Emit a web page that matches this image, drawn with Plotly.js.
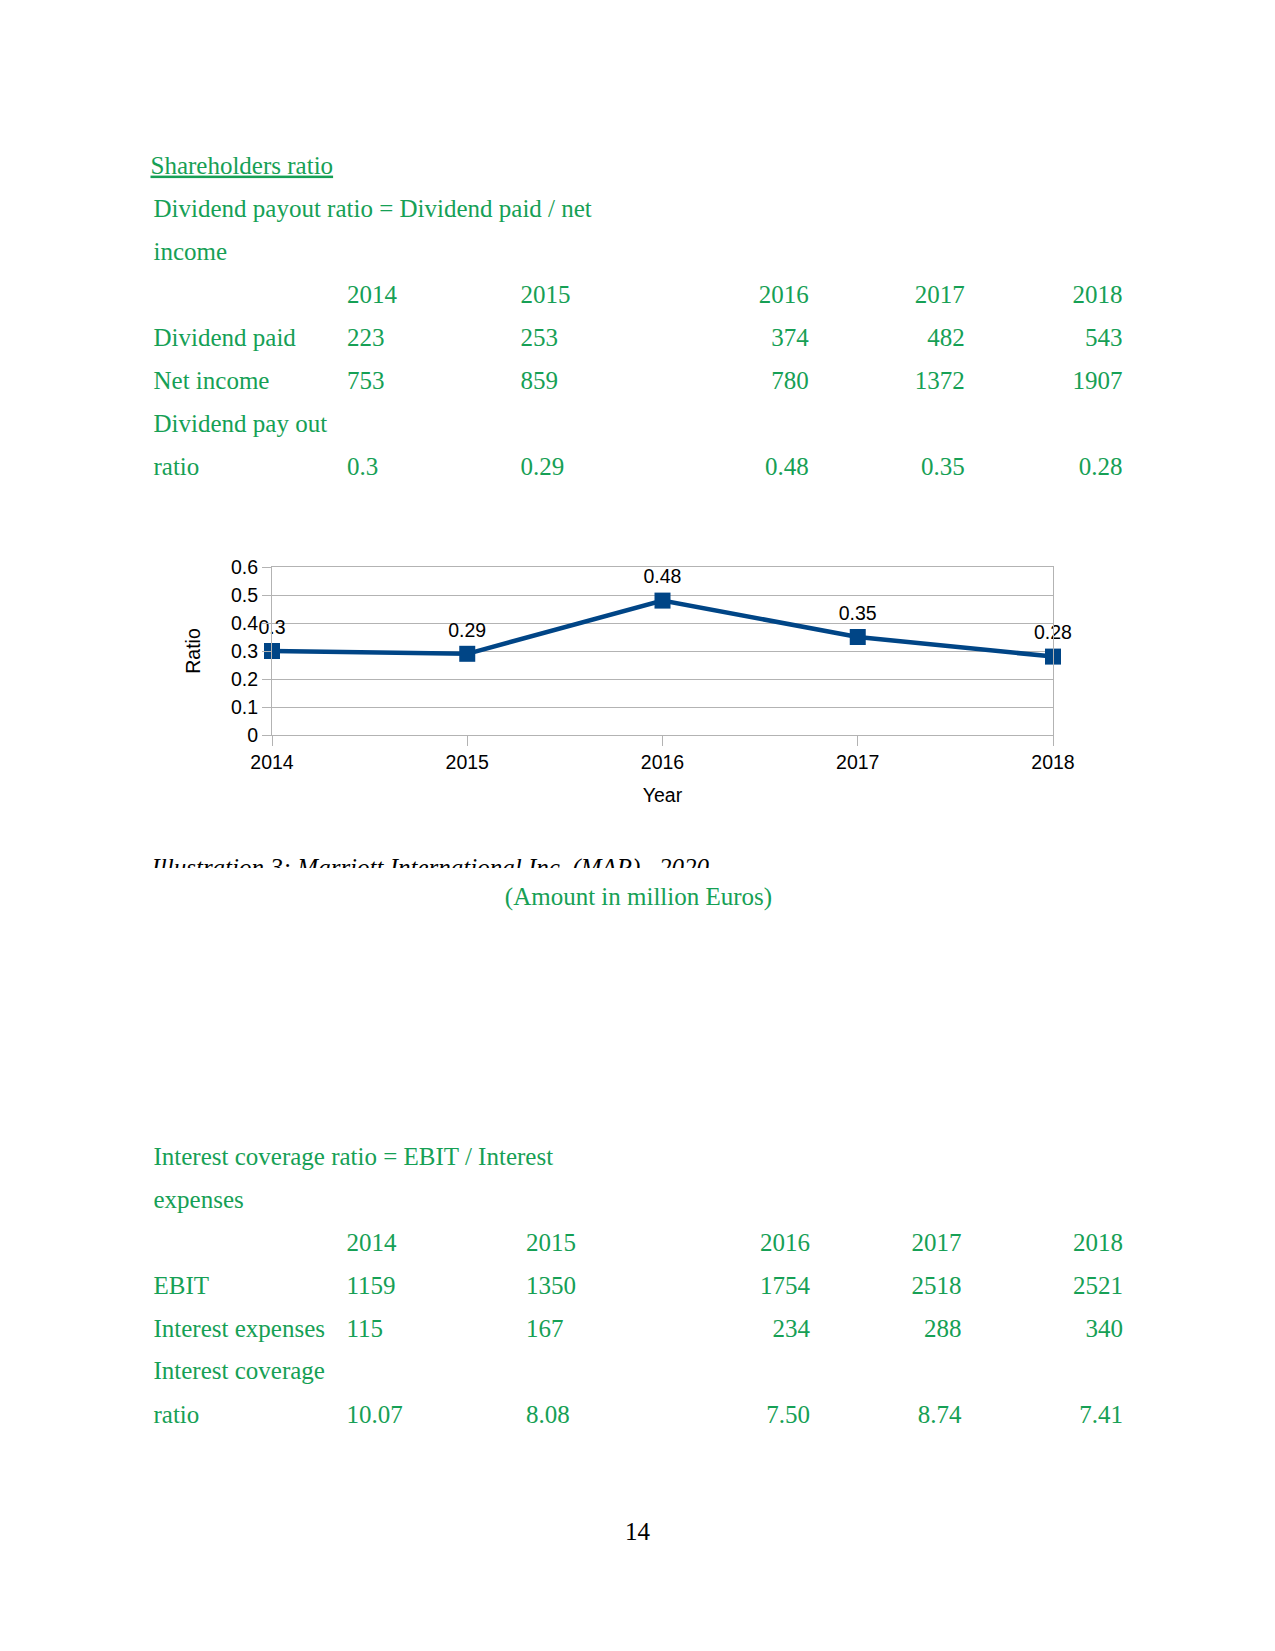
<!DOCTYPE html>
<html>
<head>
<meta charset="utf-8">
<script src="https://cdn.plot.ly/plotly-3.0.1.min.js"></script>
<style>
  html, body { margin: 0; padding: 0; background: #ffffff; }
  #page { position: relative; width: 1275px; height: 1651px; background: #ffffff; overflow: hidden; }
  #chart { position: absolute; left: 0; top: 500px; width: 1275px; height: 340px; }
  #doc { position: absolute; left: 0; top: 0; width: 1275px; height: 1651px; pointer-events: none; }
  #doc text { font-family: "Liberation Serif", "Times New Roman", serif; font-size: 25px; }
  .g { fill: #16a055; }
  .k { fill: #000000; }
</style>
</head>
<body>
<div id="page">
  <div id="chart"></div>
  <svg id="doc" xmlns="http://www.w3.org/2000/svg" width="1275" height="1651"></svg>
</div>
<script>
// ---- data ----
const years = [2014, 2015, 2016, 2017, 2018];
const dividendPaid = [223, 253, 374, 482, 543];
const netIncome = [753, 859, 780, 1372, 1907];
const payoutRatio = [0.3, 0.29, 0.48, 0.35, 0.28];
const ebit = [1159, 1350, 1754, 2518, 2521];
const interestExpenses = [115, 167, 234, 288, 340];
const coverageRatio = [10.07, 8.08, 7.50, 8.74, 7.41];
const yTicks = [0, 0.1, 0.2, 0.3, 0.4, 0.5, 0.6];

// ---- document text ----
const svg = document.getElementById('doc');
const NS = 'http://www.w3.org/2000/svg';
function txt(str, x, y, cls, anchor, extra) {
  const t = document.createElementNS(NS, 'text');
  t.setAttribute('x', x);
  t.setAttribute('y', y);
  t.setAttribute('class', cls);
  if (anchor) t.setAttribute('text-anchor', anchor);
  if (extra) for (const k in extra) t.setAttribute(k, extra[k]);
  t.textContent = str;
  svg.appendChild(t);
  return t;
}

// Table 1
const dy = 1.6;
txt('Shareholders ratio', 150.5, 172 + dy, 'g', null, {'text-decoration': 'underline'});
txt('Dividend payout ratio = Dividend paid / net', 153.5, 215 + dy, 'g');
txt('income', 153.5, 258 + dy, 'g');
const colA = [347, 520.5];              // left-aligned columns
const colB1 = [808.8, 964.8, 1122.5];   // right-aligned columns
function row(vals, y, colB2, colA2) {
  vals.forEach((v, i) => {
    if (i < 2) txt(String(v), (colA2 || colA)[i], y, 'g');
    else txt(String(v), colB2[i - 2], y, 'g', 'end');
  });
}
row(years, 301.5 + dy, colB1);
txt('Dividend paid', 153.5, 344.7 + dy, 'g'); row(dividendPaid, 344.7 + dy, colB1);
txt('Net income', 153.5, 387.7 + dy, 'g'); row(netIncome, 387.7 + dy, colB1);
txt('Dividend pay out', 153.5, 430.5 + dy, 'g');
txt('ratio', 153.5, 473.3 + dy, 'g'); row(payoutRatio, 473.3 + dy, colB1);

// Caption (clipped at the bottom as in the source)
const defs = document.createElementNS(NS, 'defs');
const cp = document.createElementNS(NS, 'clipPath');
cp.setAttribute('id', 'capclip');
const cr = document.createElementNS(NS, 'rect');
cr.setAttribute('x', 0); cr.setAttribute('y', 840); cr.setAttribute('width', 1275); cr.setAttribute('height', 28);
cp.appendChild(cr); defs.appendChild(cp); svg.appendChild(defs);
txt('Illustration 3: Marriott International Inc. (MAR) , 2020', 151.5, 875.5, 'k', null,
    {'clip-path': 'url(#capclip)', 'font-style': 'italic'});
txt('(Amount in million Euros)', 638.5, 905, 'g', 'middle');

// Table 2
const colA2 = [346.5, 526];
const colB2 = [810, 961.5, 1123];
txt('Interest coverage ratio = EBIT / Interest', 153.5, 1163 + dy, 'g');
txt('expenses', 153.5, 1206 + dy, 'g');
row(years, 1249.3 + dy, colB2, colA2);
txt('EBIT', 153.5, 1292.5 + dy, 'g'); row(ebit, 1292.5 + dy, colB2, colA2);
txt('Interest expenses', 153.5, 1335.6 + dy, 'g'); row(interestExpenses, 1335.6 + dy, colB2, colA2);
txt('Interest coverage', 153.5, 1377.7 + dy, 'g');
txt('ratio', 153.5, 1421 + dy, 'g'); row(coverageRatio.map(v => v.toFixed(2)), 1421 + dy, colB2, colA2);

// Page number
txt('14', 637.5, 1539.5, 'k', 'middle');

// ---- chart ----
const fontFam = '"Liberation Sans", Arial, sans-serif';
const fs = 19.5;
const lineTrace = {
  x: years,
  y: payoutRatio,
  type: 'scatter',
  mode: 'lines+markers',
  line: { color: '#004586', width: 4.5 },
  marker: { symbol: 'square', size: 16, color: '#004586' },
  cliponaxis: false,
  hoverinfo: 'x+y'
};
const labelTrace = {
  x: years,
  y: payoutRatio,
  type: 'scatter',
  mode: 'markers+text',
  text: payoutRatio.map(String),
  textposition: 'top center',
  textfont: { family: fontFam, size: fs, color: '#000000' },
  marker: { symbol: 'square', size: 18, color: 'rgba(0,0,0,0)' },
  cliponaxis: false,
  hoverinfo: 'skip'
};
const layout = {
  width: 1275,
  height: 340,
  margin: { l: 272, r: 222, t: 67.3, b: 104.7, pad: 0 },
  paper_bgcolor: 'rgba(0,0,0,0)',
  plot_bgcolor: '#ffffff',
  showlegend: false,
  font: { family: fontFam, size: fs, color: '#000000' },
  xaxis: {
    range: [2014, 2018],
    tickvals: years,
    ticktext: years.map(String),
    showgrid: false,
    zeroline: false,
    showline: true,
    linecolor: '#b3b3b3',
    linewidth: 1,
    mirror: true,
    ticks: 'outside',
    ticklen: 10,
    tickcolor: '#b3b3b3',
    tickwidth: 1,
    tickfont: { family: fontFam, size: fs, color: '#000000' },
    title: { text: 'Year', font: { family: fontFam, size: fs, color: '#000000' }, standoff: 15 },
    automargin: true,
    fixedrange: true
  },
  yaxis: {
    range: [0, 0.6],
    tickvals: yTicks,
    ticktext: yTicks.map(String),
    showgrid: true,
    gridcolor: '#b3b3b3',
    gridwidth: 1,
    zeroline: false,
    showline: true,
    linecolor: '#b3b3b3',
    linewidth: 1,
    mirror: true,
    ticks: 'outside',
    ticklen: 9,
    tickcolor: '#b3b3b3',
    tickwidth: 1,
    tickfont: { family: fontFam, size: fs, color: '#000000' },
    title: { text: 'Ratio', font: { family: fontFam, size: fs, color: '#000000' }, standoff: 25 },
    automargin: true,
    fixedrange: true
  }
};
Plotly.newPlot('chart', [lineTrace, labelTrace], layout, { displayModeBar: false, staticPlot: true });
</script>
</body>
</html>
